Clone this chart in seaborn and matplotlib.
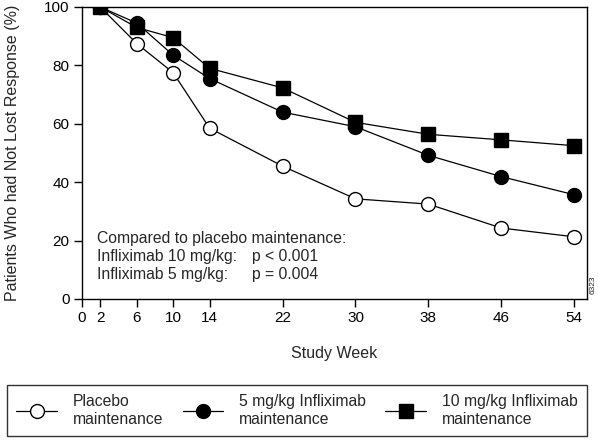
import matplotlib
matplotlib.use("Agg")
import matplotlib.pyplot as plt
import seaborn as sns
import pandas as pd
from matplotlib.lines import Line2D

weeks = [2, 6, 10, 14, 22, 30, 38, 46, 54]
placebo = [100, 87.5, 77.5, 58.5, 45.5, 34.3, 32.5, 24.3, 21.3]
inflix_5 = [100, 94.5, 83.5, 75.5, 64.0, 59.0, 49.2, 41.9, 35.7]
inflix_10 = [100, 93.0, 89.5, 79.0, 72.3, 60.5, 56.4, 54.5, 52.5]
xticks = [0, 2, 6, 10, 14, 22, 30, 38, 46, 54]
yticks = [0, 20, 40, 60, 80, 100]

sns.set_theme(style="ticks")
plt.rcParams['font.family'] = ['Liberation Sans', 'DejaVu Sans']

fig = plt.figure(figsize=(5.98, 4.42), dpi=100)
ax = fig.add_axes([82/598, 1-299/442, (587-82)/598, (299-7)/442])

series = [
    ("Placebo\nmaintenance", placebo, "o", "white"),
    ("5 mg/kg Infliximab\nmaintenance", inflix_5, "o", "black"),
    ("10 mg/kg Infliximab\nmaintenance", inflix_10, "s", "black"),
]
for name, vals, mk, fc in series:
    df = pd.DataFrame({"week": weeks, "value": vals})
    sns.lineplot(data=df, x="week", y="value", ax=ax, color="black", lw=0.9,
                 marker=mk, markersize=10 if mk == "o" else 9.5,
                 markerfacecolor=fc, markeredgecolor="black", markeredgewidth=1.0,
                 legend=False)

ax.set_xlim(0, 55.4)
ax.set_ylim(0, 100)
ax.set_xticks(xticks)
ax.set_yticks(yticks)
ax.tick_params(direction="out", length=6, width=1, color="black", labelsize=11,
               labelcolor="black", pad=3)
for s in ax.spines.values():
    s.set_visible(True)
    s.set_color("black")
    s.set_linewidth(1)
ax.set_xlabel("Study Week", fontsize=11.5, labelpad=15)
ax.set_ylabel("Patients Who had Not Lost Response (%)", fontsize=11.5, labelpad=17)

ann = [
    (97, 238, "Compared to placebo maintenance:"),
    (97, 257, "Infliximab 10 mg/kg:"),
    (252, 257, "p < 0.001"),
    (97, 275, "Infliximab 5 mg/kg:"),
    (252, 275, "p = 0.004"),
]
for px, py, s in ann:
    fig.text(px/598, 1-py/442, s, fontsize=11.3, va="center", ha="left")

fig.text(593/598, 1-285/442, "6323", rotation=90, fontsize=6, ha="center", va="center")

handles = []
labels = []
for name, vals, mk, fc in series:
    handles.append(Line2D([0], [0], color="black", lw=0.9, marker=mk,
                          markersize=10 if mk == "o" else 9.5,
                          markerfacecolor=fc, markeredgecolor="black"))
    labels.append(name)
leg = fig.legend(handles, labels, loc="upper left",
                 bbox_to_anchor=(7/598, 1-440/442, 580/598, 55/442),
                 mode="expand", ncol=3, frameon=True, fancybox=False, borderaxespad=0,
                 edgecolor="black", fontsize=11.3, handlelength=2.6,
                 handletextpad=1.0, borderpad=0.6, columnspacing=1.0)
leg.get_frame().set_linewidth(1)

fig.savefig("out.png", dpi=100)
